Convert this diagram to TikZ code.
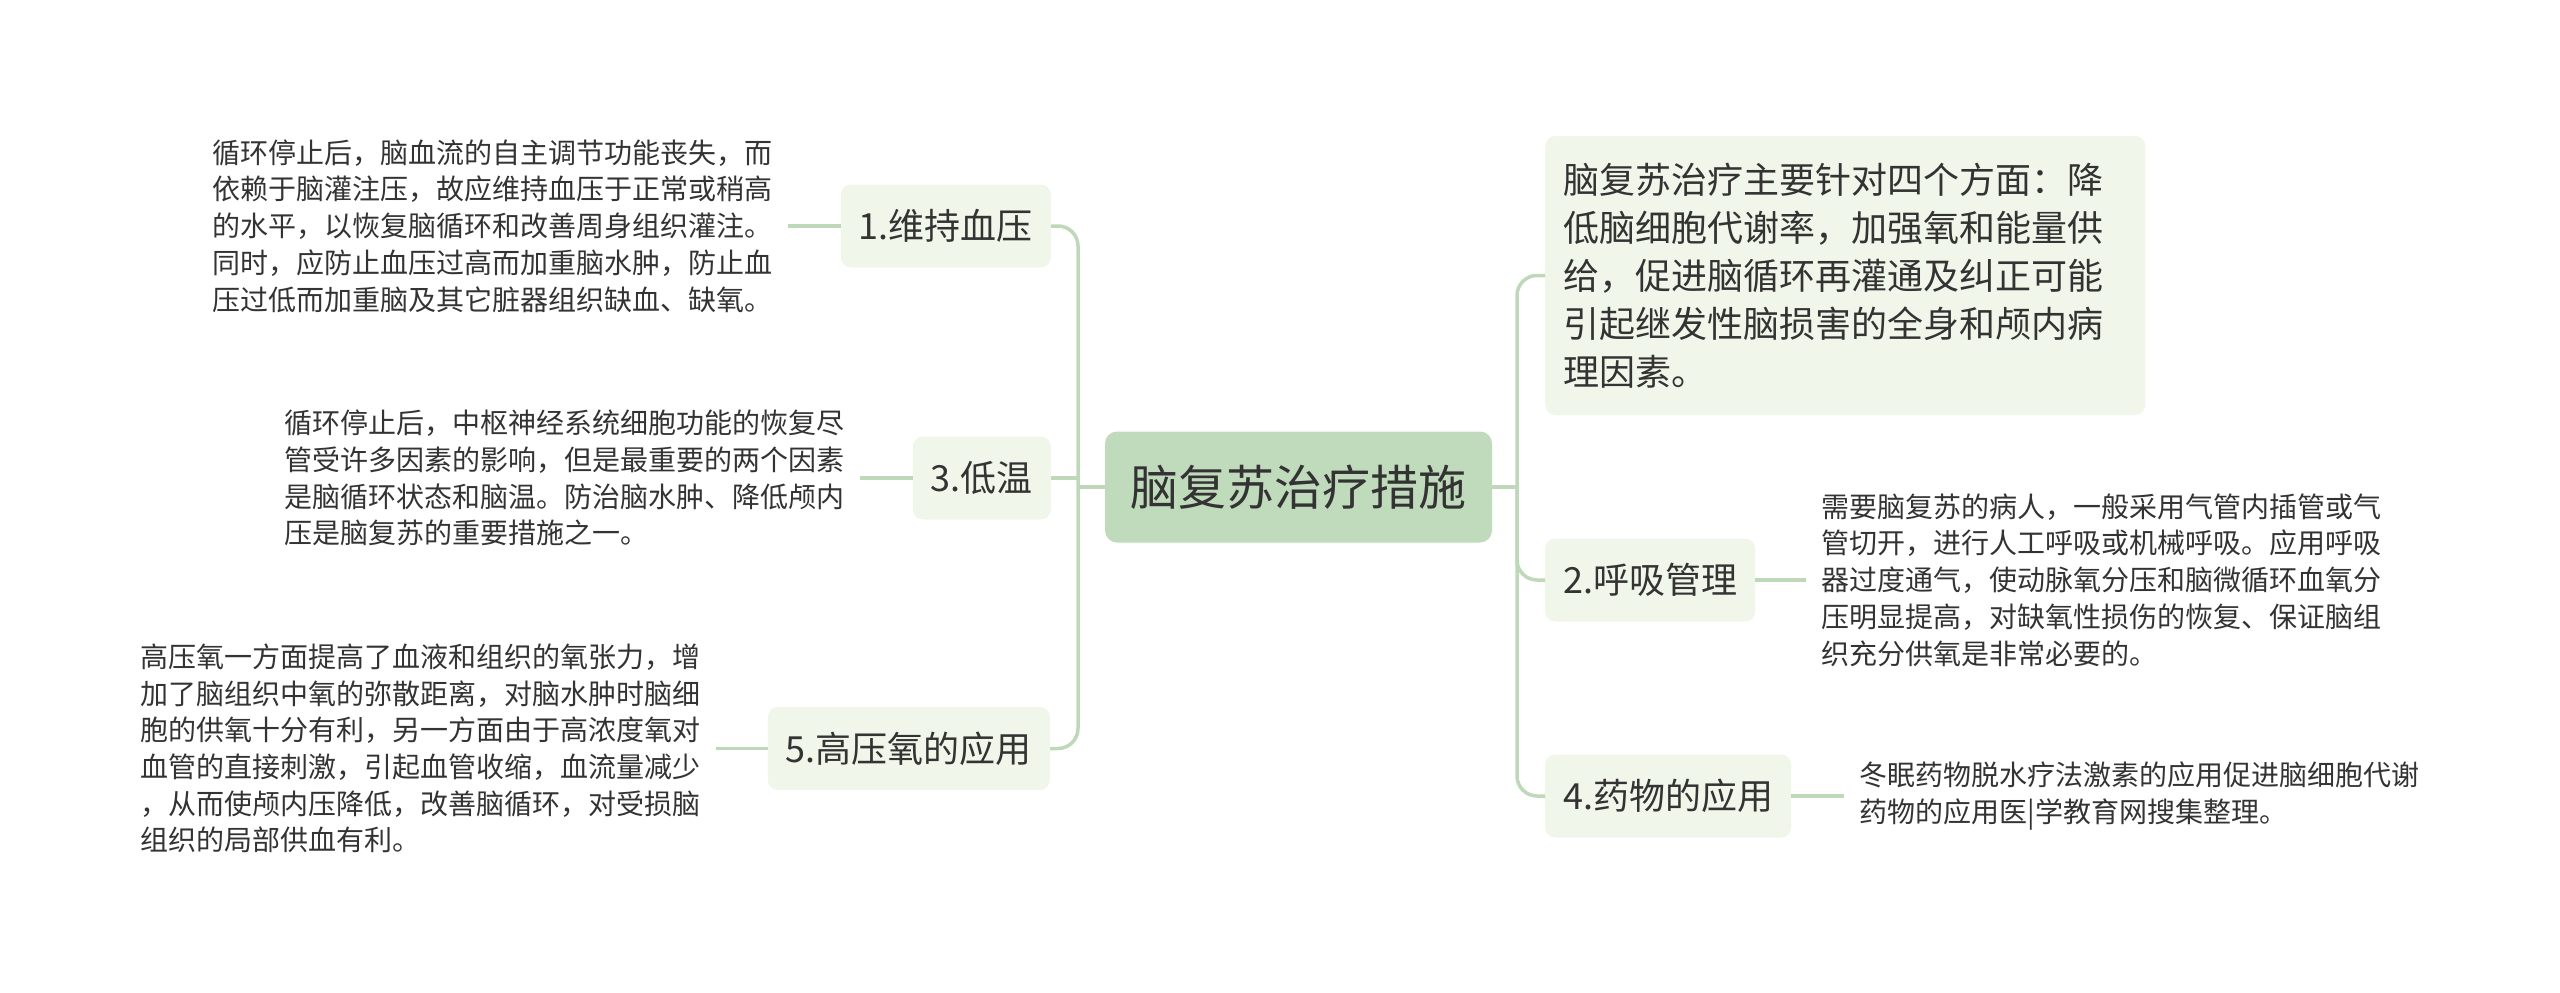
\documentclass[tikz,border=0pt]{standalone}
\usepackage{fontspec}
\setmainfont{Noto Sans CJK SC}
\usetikzlibrary{positioning}
\definecolor{linegreen}{RGB}{190,216,185}
\definecolor{rootgreen}{RGB}{192,218,188}
\definecolor{boxgreen}{RGB}{240,246,233}
\definecolor{textgray}{RGB}{51,51,51}
\tikzset{
  rootbox/.style={rounded corners=12pt, fill=rootgreen, text=textgray,
    minimum width=387pt, minimum height=111pt, inner sep=0pt,
    font=\fontsize{48pt}{56pt}\selectfont},
  topicbox/.style={rounded corners=10pt, fill=boxgreen, text=textgray,
    inner xsep=18pt, inner ysep=0pt, minimum height=83pt,
    font=\fontsize{36pt}{44pt}\selectfont},
  notetext/.style={text=textgray, align=left, inner xsep=15pt, inner ysep=0pt,
    font=\fontsize{28pt}{36.7pt}\selectfont},
  link/.style={draw=linegreen, line width=3.5pt},
}

\begin{document}
\begin{tikzpicture}[x=1pt, y=-1pt]
\useasboundingbox (0,0) rectangle (2560,993);

\node[rootbox] (root) at (1298.5,487) {脑复苏治疗措施};

% left side
\node[topicbox, anchor=east] (weichi) at (1051,226) {1.维持血压};
\node[topicbox, anchor=east] (diwen) at (1051,478) {3.低温};
\node[topicbox, anchor=east] (gaoya) at (1050,748.5) {5.高压氧的应用};

% right side
\node[topicbox, anchor=west, text width=564pt, align=left, minimum height=279pt,
      font=\fontsize{36pt}{48pt}\selectfont] (zongshu) at (1545,275.5)
  {脑复苏治疗主要针对四个方面：降\\低脑细胞代谢率，加强氧和能量供\\给，促进脑循环再灌通及纠正可能\\引起继发性脑损害的全身和颅内病\\理因素。};
\node[topicbox, anchor=west] (huxi) at (1545,580) {2.呼吸管理};
\node[topicbox, anchor=west] (yaowu) at (1545,796) {4.药物的应用};

% notes
\node[notetext, left=53pt of weichi] (weichiNote)
  {循环停止后，脑血流的自主调节功能丧失，而\\依赖于脑灌注压，故应维持血压于正常或稍高\\的水平，以恢复脑循环和改善周身组织灌注。\\同时，应防止血压过高而加重脑水肿，防止血\\压过低而加重脑及其它脏器组织缺血、缺氧。};
\node[notetext, left=53pt of diwen] (diwenNote)
  {循环停止后，中枢神经系统细胞功能的恢复尽\\管受许多因素的影响，但是最重要的两个因素\\是脑循环状态和脑温。防治脑水肿、降低颅内\\压是脑复苏的重要措施之一。};
\node[notetext, left=52pt of gaoya] (gaoyaNote)
  {高压氧一方面提高了血液和组织的氧张力，增\\加了脑组织中氧的弥散距离，对脑水肿时脑细\\胞的供氧十分有利，另一方面由于高浓度氧对\\血管的直接刺激，引起血管收缩，血流量减少\\，从而使颅内压降低，改善脑循环，对受损脑\\组织的局部供血有利。};
\node[notetext, right=51pt of huxi] (huxiNote)
  {需要脑复苏的病人，一般采用气管内插管或气\\管切开，进行人工呼吸或机械呼吸。应用呼吸\\器过度通气，使动脉氧分压和脑微循环血氧分\\压明显提高，对缺氧性损伤的恢复、保证脑组\\织充分供氧是非常必要的。};
\node[notetext, right=53pt of yaowu] (yaowuNote)
  {冬眠药物脱水疗法激素的应用促进脑细胞代谢\\药物的应用医|学教育网搜集整理。};

% trunks
\coordinate (lj) at (1078,487);
\coordinate (rj) at (1517,487);
\draw[link] (root.west) -- (lj);
\draw[link, rounded corners=20pt] (lj) |- (weichi.east);
\draw[link] (diwen.east) -- (diwen.east -| lj);
\draw[link, rounded corners=20pt] (lj) |- (gaoya.east);
\draw[link] (root.east) -- (rj);
\draw[link, rounded corners=20pt] (rj) |- (zongshu.west);
\draw[link, rounded corners=20pt] (rj) |- (huxi.west);
\draw[link, rounded corners=20pt] (rj) |- (yaowu.west);

% note links
\draw[link] (weichi.west) -- (weichiNote.east);
\draw[link] (diwen.west) -- (diwenNote.east);
\draw[link] (gaoya.west) -- (gaoyaNote.east);
\draw[link] (huxi.east) -- (huxiNote.west);
\draw[link] (yaowu.east) -- (yaowuNote.west);
\end{tikzpicture}
\end{document}
